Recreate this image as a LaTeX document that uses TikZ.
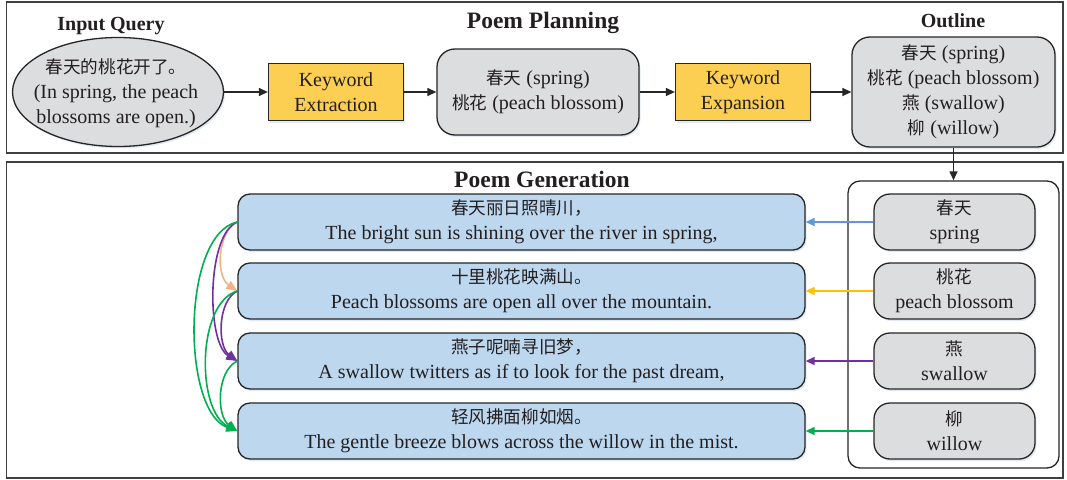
\documentclass[tikz,border=0pt]{standalone}
\usepackage{fontspec}
\setmainfont{Liberation Serif}
\newfontfamily\cjk{Noto Sans CJK SC}[Scale=0.88]
\usetikzlibrary{arrows.meta,shapes.geometric,shadows}
\definecolor{framec}{RGB}{64,64,64}
\definecolor{edgec}{RGB}{38,38,38}
\definecolor{grayfill}{RGB}{220,221,223}
\definecolor{yellowfill}{RGB}{252,206,82}
\definecolor{bluefill}{RGB}{189,215,238}
\definecolor{txt}{RGB}{35,31,32}
\definecolor{cblue}{RGB}{91,155,213}
\definecolor{cyellow}{RGB}{255,192,0}
\definecolor{cpurple}{RGB}{112,48,160}
\definecolor{cgreen}{RGB}{0,176,80}
\definecolor{corange}{RGB}{244,177,131}
\definecolor{shadec}{RGB}{175,192,222}
\begin{document}
\begin{tikzpicture}[x=1pt,y=-1pt,
  every node/.style={text=txt, font=\fontsize{20}{25}\selectfont, align=center, inner sep=0pt},
  shd/.style={drop shadow={fill=shadec, opacity=0.35, shadow xshift=1.5pt, shadow yshift=-2pt}},
  graybox/.style={draw=edgec, line width=1.3pt, fill=grayfill, rounded corners=18pt, shd},
  yellowbox/.style={draw=edgec, line width=1.3pt, fill=yellowfill, minimum width=135pt, minimum height=57pt, shd},
  poembox/.style={draw=edgec, line width=1.3pt, fill=bluefill, rounded corners=12pt, minimum width=567pt, minimum height=56pt, shd},
  kwbox/.style={graybox, rounded corners=16pt, minimum width=161pt, minimum height=56pt},
  smalltitle/.style={font=\bfseries\fontsize{20}{24}\selectfont},
  bigtitle/.style={font=\bfseries\fontsize{23.5}{28}\selectfont},
  frm/.style={draw=framec, line width=1.6pt},
  blk/.style={draw=edgec, line width=1.3pt, -{Triangle[length=9pt,width=8pt]}},
  carr/.style={line width=1.5pt, -{Triangle[length=9pt,width=8pt]}},
  larr/.style={line width=1.6pt, -{Triangle[length=11pt,width=9pt]}},
]
\fill[white] (0,0) rectangle (1067,479);
\useasboundingbox (0,0) rectangle (1067,479);

% frames
\draw[frm] (6.5,2) rectangle (1063,153);
\draw[frm] (6.5,162) rectangle (1063,478);

% titles
\node[bigtitle] (tplan) at (543,23) {Poem Planning};
\node[smalltitle] (tinput) at (111,26) {Input Query};
\node[smalltitle] (toutline) at (953,21) {Outline};
\node[bigtitle] (tgen) at (542,179) {Poem Generation};

% planning row
\node[ellipse, draw=edgec, line width=1.3pt, fill=grayfill, minimum width=211pt, minimum height=109pt, shd] (query) at (118,92) {};
\node (querytext) at (116,93) {{\cjk 春天的桃花开了。}\\(In spring, the peach\\blossoms are open.)};
\node[yellowbox] (ke) at (336,92) {Keyword\\Extraction};
\node[graybox, minimum width=202pt, minimum height=86pt] (kw) at (538,92) {{\cjk 春天} (spring)\\{\cjk 桃花} (peach blossom)};
\node[yellowbox] (kexp) at (743,92) {Keyword\\Expansion};
\node[graybox, minimum width=203pt, minimum height=110pt] (outline) at (953.5,92) {{\cjk 春天} (spring)\\{\cjk 桃花} (peach blossom)\\{\cjk 燕} (swallow)\\{\cjk 柳} (willow)};

\draw[blk] (query.east) -- (ke.west);
\draw[blk] (ke.east) -- (kw.west);
\draw[blk] (kw.east) -- (kexp.west);
\draw[blk] (kexp.east) -- (outline.west);

% generation
\node[draw=edgec, line width=1.3pt, fill=white, rounded corners=12pt, minimum width=211pt, minimum height=287pt] (container) at (953.5,324.5) {};
\draw[blk] (outline.south) -- (container.north);

\node[kwbox] (k1) at (954.5,222) {{\cjk 春天}\\spring};
\node[kwbox] (k2) at (954.5,291) {{\cjk 桃花}\\peach blossom};
\node[kwbox] (k3) at (954.5,361) {{\cjk 燕}\\swallow};
\node[kwbox] (k4) at (954.5,431) {{\cjk 柳}\\willow};

\node[poembox] (p1) at (521.5,222) {{\cjk 春天丽日照晴川，}\\The bright sun is shining over the river in spring,};
\node[poembox] (p2) at (521.5,291) {{\cjk 十里桃花映满山。}\\Peach blossoms are open all over the mountain.};
\node[poembox] (p3) at (521.5,361) {{\cjk 燕子呢喃寻旧梦，}\\A swallow twitters as if to look for the past dream,};
\node[poembox] (p4) at (521.5,431) {{\cjk 轻风拂面柳如烟。}\\The gentle breeze blows across the willow in the mist.};

\draw[carr, cblue] (k1.west) -- (p1.east);
\draw[carr, cyellow] (k2.west) -- (p2.east);
\draw[carr, cpurple] (k3.west) -- (p3.east);
\draw[carr, cgreen] (k4.west) -- (p4.east);

% left dependency arcs
\draw[larr, corange] (p1.west) .. controls +(-20,10) and +(-22,-15) .. (p2.west);
\draw[larr, cpurple] (p1.west) .. controls +(-31,12) and +(-31,-18) .. (p3.west);
\draw[larr, cgreen] (p1.west) .. controls +(-56,12) and +(-56,-20) .. (p4.west);
\draw[larr, cpurple] (p2.west) .. controls +(-20,10) and +(-20,-15) .. (p3.west);
\draw[larr, cgreen] (p2.west) .. controls +(-41,12) and +(-41,-20) .. (p4.west);
\draw[larr, cgreen] (p3.west) .. controls +(-21,10) and +(-21,-15) .. (p4.west);
\end{tikzpicture}
\end{document}
